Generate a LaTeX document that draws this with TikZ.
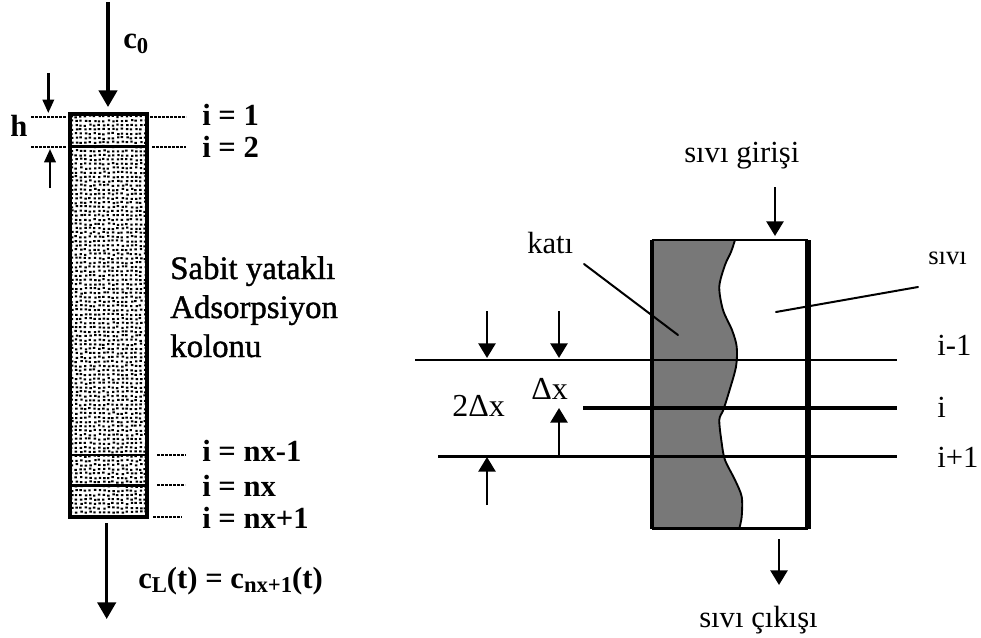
\documentclass[tikz,border=0pt]{standalone}
\usepackage{fontspec}
\setmainfont{Liberation Serif}
\newfontfamily\semib[FakeBold=1.2]{Liberation Serif}
\usetikzlibrary{arrows.meta}
\newcommand{\sbs}[1]{\raisebox{-0.3ex}{\fontsize{17}{17}\selectfont #1}}
\tikzset{
  x=0.75pt,y=-0.75pt,
  bigarrow/.style={line width=2.5pt,-{Triangle[length=12.5pt,width=13.75pt,inset=0pt]}},
  smallarrow/.style={line width=2pt,-{Triangle[length=11pt,width=12.75pt,inset=0pt]}},
  harrow/.style={line width=1.8pt,-{Triangle[length=10pt,width=8.5pt,inset=0pt]}},
  dotline/.style={line width=1.5pt,dash pattern=on 2.2pt off 0.8pt},
  leader/.style={line width=1.5pt,line cap=round},
  lab/.style={anchor=base west,inner sep=0pt,font=\fontsize{24.6}{25}\selectfont\semib},
  lbold/.style={anchor=base west,inner sep=0pt,font=\fontsize{23}{23}\selectfont\bfseries},
  rlab/.style={anchor=base west,inner sep=0pt,font=\fontsize{23}{23}\selectfont},
}
\definecolor{solidgray}{gray}{0.47}
\begin{document}
\begin{tikzpicture}
\useasboundingbox (0,0) rectangle (981,638);
% ---- left column ----
\pgfmathsetseed{11}
\fill[black] \foreach \c in {0,...,16}{ \foreach \r in {0,...,92}{
  ({70.5+\c*4.6+rand*0.8},{115.5+\r*4.3+rand*0.8}) rectangle ++(2.4,2.0) }};
\node[draw,line width=3pt,outer sep=0pt,inner sep=0pt,minimum width=58.2pt,minimum height=301.8pt,anchor=north west] (col) at (69.7,114.3) {};
\coordinate (c1w) at (col.west |- 0,146.3); \coordinate (c1e) at (col.east |- 0,146.3);
\coordinate (c2w) at (col.west |- 0,455); \coordinate (c2e) at (col.east |- 0,455);
\coordinate (c3w) at (col.west |- 0,485.3); \coordinate (c3e) at (col.east |- 0,485.3);
\draw[line width=2pt] (c1w) -- (c1e);
\draw[line width=2pt] (c2w) -- (c2e);
\draw[line width=2.4pt] (c3w) -- (c3e);
% flow arrows
\coordinate (in0) at (108,2); \coordinate (in1) at (108,107);
\draw[bigarrow] (in0) -- (in1);
\coordinate (out0) at (106.7,523); \coordinate (out1) at (106.7,619);
\draw[bigarrow] (out0) -- (out1);
% h marks
\coordinate (ha0) at (48.3,73); \coordinate (ha1) at (48.3,113);
\coordinate (hb0) at (50,188); \coordinate (hb1) at (50,149);
\draw[harrow] (ha0) -- (ha1);
\draw[harrow] (hb0) -- (hb1);
\coordinate (dl1) at (31,117); \coordinate (dl2) at (31,147.3);
\coordinate (dr1) at (186,117); \coordinate (dr2) at (186,147.3);
\coordinate (dr3) at (186,455); \coordinate (dr4) at (185,485); \coordinate (dr5) at (182,516.7);
\draw[dotline] (dl1) -- (66,117);
\draw[dotline] (dl2) -- (66,147.3);
\draw[dotline] (150,117) -- (dr1);
\draw[dotline] (152,147.3) -- (dr2);
\draw[dotline] (157,455) -- (dr3);
\draw[dotline] (157,485) -- (dr4);
\draw[dotline] (153,516.7) -- (dr5);
% left labels
\node[lbold] (c0) at (123,49) {c\sbs{0}};
\node[lbold] (h) at (10,137) {h};
\node[lbold] (i1) at (202,126) {i = 1};
\node[lbold] (i2) at (202,158) {i = 2};
\node[lbold] (inx1) at (202,461) {i = nx-1};
\node[lbold] (inx) at (202,496) {i = nx};
\node[lbold] (inx2) at (202,528) {i = nx+1};
\node[lbold] (cL) at (138,588) {c\sbs{L}(t) = c\sbs{nx+1}(t)};
\node[lab] (s1) at (170,279) {Sabit yataklı};
\node[lab] (s2) at (170,318) {Adsorpsiyon};
\node[lab] (s3) at (170,357) {kolonu};
% ---- right element ----
\def\wavy{(735,240) (731,252) (725,265) (719.3,286.7) (723,310) (732,330) (736.7,346.7) (736,366.7) (729,392) (723.3,410) (719.3,420) (721.7,443) (725,460) (735,480) (741.7,496.7) (741.7,516.7) (739.3,528.3)}
\fill[solidgray] (651,240) -- plot[smooth,tension=.5] coordinates {\wavy} -- (651,528.3) -- cycle;
\draw[line width=1.4pt] plot[smooth,tension=.5] coordinates {\wavy};
\coordinate (bl) at (651.5,528.5); \coordinate (tl) at (651.5,240);
\coordinate (br) at (808,528.5); \coordinate (tr) at (808,240);
\draw[line width=3pt] (bl) -- (tl);
\draw[line width=3.8pt] (br) -- (tr);
\draw[line width=2pt,line cap=square] (tl) -- (tr);
\draw[line width=2.2pt,line cap=square] (bl) -- (br);
% section lines
\coordinate (a0) at (415,360); \coordinate (a1) at (897,360);
\coordinate (b0) at (583,408); \coordinate (b1) at (897,408);
\coordinate (d0) at (438,456.5); \coordinate (d1) at (897,456.5);
\draw[line width=1.9pt] (a0) -- (a1);
\draw[line width=2.3pt] (b0) -- (b1);
\draw[line width=1.7pt] (d0) -- (d1);
% dimension arrows
\coordinate (e0) at (487,311); \coordinate (e1) at (487,358);
\coordinate (f0) at (559,311); \coordinate (f1) at (559,358);
\coordinate (g0) at (559,457); \coordinate (g1) at (559,408);
\coordinate (k0) at (487,505); \coordinate (k1) at (487,457);
\foreach \p/\q in {e0/e1,f0/f1,g0/g1,k0/k1}{\draw[smallarrow] (\p) -- (\q);}
% feed and outlet
\coordinate (t0) at (775,187); \coordinate (t1) at (775,236);
\coordinate (u0) at (779,539); \coordinate (u1) at (779,585);
\draw[smallarrow] (t0) -- (t1);
\draw[smallarrow] (u0) -- (u1);
% leaders
\coordinate (kl0) at (584,264); \coordinate (kl1) at (678,335);
\coordinate (sl0) at (918,287); \coordinate (sl1) at (776,312);
\draw[leader] (kl0) -- (kl1);
\draw[leader] (sl0) -- (sl1);
% right labels
\node[rlab] (sg) at (684,163) {sıvı girişi};
\node[rlab] (kat) at (527,253) {katı};
\node[rlab,font=\fontsize{20}{20}\selectfont] (sv) at (928,264) {sıvı};
\node[rlab] (l1) at (937,355) {i-1};
\node[rlab] (l2) at (937,417) {i};
\node[rlab] (l3) at (937,467) {i+1};
\node[rlab] (sc) at (699,627) {sıvı çıkışı};
\node[rlab,font=\fontsize{24}{24}\selectfont] (d2) at (452,416) {2Δx};
\node[rlab,font=\fontsize{24}{24}\selectfont] (d3) at (531,399) {Δx};
\end{tikzpicture}
\end{document}
